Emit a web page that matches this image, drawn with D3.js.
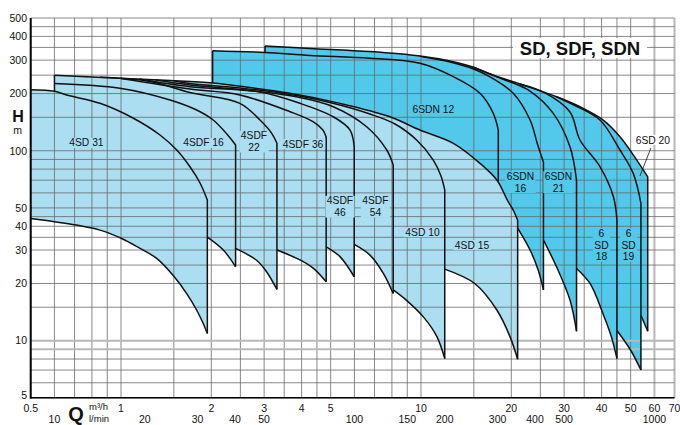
<!DOCTYPE html>
<html><head><meta charset="utf-8">
<script src="https://cdn.jsdelivr.net/npm/d3@7"></script>
<style>
body{margin:0;background:#fff}
svg{display:block}
text{font-family:"Liberation Sans",Arial,Helvetica,sans-serif;fill:#111}
</style>
</head><body>
<svg id="c" width="680" height="425"></svg>
<script>
// ---------- axes / ticks ----------
const xTicks = [0.5,1,2,3,4,5,10,20,30,40,50,60,70];          // m3/h
const lminTicks = [10,20,30,40,50,100,150,200,300,400,500,1000]; // l/min
const yTicks = [5,10,20,30,40,50,100,200,300,400,500];
const xGrid = [0.5,0.6,0.7,0.8,0.9,1,1.5,2,2.5,3,3.5,4,4.5,5,6,7,8,9,10,15,20,25,30,35,40,45,50,60,70];
const yGrid = [5,6,7,8,9,10,15,20,25,30,35,40,45,50,60,70,80,90,100,150,200,250,300,350,400,450,500];
const xGridLight = [60,70];
const yGridLight = [9,10];

// ---------- 4" pumps (Q m3/h, H m) ----------
const sd31Top  = [[0.5,209.6],[0.6,205.6],[0.659,196.5],[0.851,177.7],[1.096,148.7],[1.349,121],[1.534,100.8],[1.698,82.3],[1.834,67.6],[1.94,55]];
const sd31Bot  = [[0.5,44],[0.6,42.3],[0.708,40.6],[0.851,38.2],[1.005,34.5],[1.157,30.6],[1.315,27.1],[1.505,21.7],[1.656,17.7],[1.787,14.5],[1.88,12.3],[1.94,10.9]];
const sdf16Top = [[0.6,226],[0.992,213.3],[1.457,185],[1.787,163.8],[2.029,145.1],[2.253,122.4],[2.41,107.2]];
const sdf16Bot = [[1.94,35.1],[2.193,30],[2.41,24.5]];
const sdf22Top = [[0.85,243.4],[1.249,231.5],[1.698,202.6],[2.49,177.7],[2.906,145.1],[3.18,123.5],[3.31,109.4]];
const sdf22Bot = [[2.41,30.6],[2.83,26.5],[3.06,23],[3.31,18.6]];
const sdf36Top = [[1.0,240.2],[1.698,211.4],[2.49,196.6],[3.66,160.5],[4.365,142.2],[4.71,128.5],[4.83,118.1]];
const sdf36Bot = [[3.31,30],[3.95,26.6],[4.38,24],[4.83,20.4]];
const sdf46Top = [[1.15,238.6],[1.698,217.4],[2.906,203.9],[3.95,177.7],[5.1,151],[5.8,128.5],[5.99,105]];
const sdf46Bot = [[4.83,31.2],[5.37,27.7],[5.99,21.7]];
const sdf54Top = [[1.3,236.4],[1.698,221.9],[2.49,210.1],[3.95,190.7],[5.1,170.5],[6.59,133.8],[7.69,100.9],[8.08,84.1]];
const sdf54Bot = [[5.99,32.1],[6.76,28.2],[7.49,22.6],[8.08,17.7]];
const sd10Top  = [[1.5,233.8],[1.698,225.9],[2.49,214],[3.66,197.8],[4.97,179.5],[6.76,156.1],[8.19,138.3],[9.67,113.9],[10.99,89.3],[11.66,73.6],[12,62.1]];
const sd10Bot  = [[8.08,18.5],[8.95,16.3],[10.2,13.3],[11.3,10.5],[12,8.05]];
const sd15Top  = [[0.6,250],[0.992,240.7],[1.457,234.4],[2.02,227.4],[2.69,215.3],[3.66,200.7],[5.37,177.6],[7.88,151],[9.92,128.5],[12.82,109.4],[15.73,85.8],[17.9,70.1],[19.4,55],[20.3,48.7],[21,43.1]];
const sd15Bot  = [[12,23.8],[15.1,20],[17.9,14.5],[19.8,10.5],[21,7.98]];

// ---------- 6" pumps ----------
const sdn12Top = [[2.02,336.5],[3.02,329],[4.27,317.5],[6.76,306.8],[9.92,288.7],[12.82,245.4],[15.73,200.7],[17.42,157.4],[18.1,128.5]];
const sdn12Bot = [[18.1,69]];
const sdn16Top = [[9.92,314],[12.5,293],[14.9,270],[16.98,245],[20.3,200.7],[23.1,145.1],[24.5,107.2],[25.6,87.2]];
const sdn16Bot = [[21,39.1],[23.1,30],[24.6,23.5],[25.6,18.5]];
const sdn21Top = [[14.88,276],[18.34,241.5],[23.08,206.3],[27.6,157.4],[31.38,105],[33,70.1]];
const sdn21Bot = [[25.6,33.8],[28.3,24.5],[31.4,16.3],[33,11.2]];
const sd18Top  = [[21.38,224.6],[25.9,201.5],[31.38,159.9],[33.88,113.9],[39.5,82.4],[43.8,57.2],[45,43.1]];
const sd18Bot  = [[33,24],[36.6,20],[40.4,13.9],[43.1,10.5],[45,8.05]];
const sd19Top  = [[28.3,192.5],[32.6,173],[39.5,145.1],[46.07,100.9],[51,76],[54.1,52.8]];
const sd19Bot  = [[45,11.3],[50,8.9],[54.1,7.0]];
const sd20Top  = [[3.02,356],[4.27,345.6],[6.76,333],[9.92,315.5],[12.5,296.8],[14.88,276],[16.98,253.6],[21.38,224.6],[28.3,192.5],[33.88,170.5],[40.5,145.1],[46.07,118.5],[52.4,89.3],[57,72.9]];
const sd20Bot  = [[54.1,13.6],[57,11.2]];

// ---------- labels ----------
const labelText  = ["4SD 31","4SDF 16","4SDF\n22","4SDF 36","4SDF\n46","4SDF\n54","4SD 10","4SD 15","6SDN 12","6SDN\n16","6SDN\n21","6\nSD\n18","6\nSD\n19","6SD 20"];
const labelQ     = [0.767,1.884,2.775,4.044,5.37,7.05,10.12,14.79,11.0,21.46,28.73,39.96,49.2,59.3];
const labelH     = [110,110,111.8,108.5,50.8,50.8,37.3,31.9,165.8,68.4,68.4,31.9,31.9,113.9];
const labelGroup = ["4","4","4","4","4","4","4","4","6","6","6","6","6","w"];
const leader6SD20 = [[58.4,103.3],[53.7,73.6]];

const pumps4 = [[sd31Top,sd31Bot],[sdf16Top,sdf16Bot],[sdf22Top,sdf22Bot],[sdf36Top,sdf36Bot],[sdf46Top,sdf46Bot],[sdf54Top,sdf54Bot],[sd10Top,sd10Bot],[sd15Top,sd15Bot]];
const pumps6 = [[sdn12Top,sdn12Bot],[sdn16Top,sdn16Bot],[sdn21Top,sdn21Bot],[sd18Top,sd18Bot],[sd19Top,sd19Bot],[sd20Top,sd20Bot]];

const LIGHT = "#aadef0", DARK = "#52c8ea";

// ---------- scales ----------
const x = d3.scaleLog().domain([0.5,70]).range([30.7,674.5]);
const y = d3.scaleLog().domain([5,500]).range([397.8,18]);
const svg = d3.select("#c");
const line = d3.line().x(d=>x(d[0])).y(d=>y(d[1])).curve(d3.curveCatmullRom.alpha(0.5));
const rev = a => a.slice().reverse();
const cont = pts => line(pts).replace(/^M/,"L");
const P = d => x(d[0]).toFixed(2)+","+y(d[1]).toFixed(2);

// ---------- fills ----------
const darkPath = "M"+P([2.02,150])+"L"+P(sdn12Top[0])+"L"+P(sdn12Top[1])
  + cont(sd20Top) + cont(rev(sd20Bot)) + cont(rev(sd19Bot)) + cont(rev(sd18Bot))
  + cont(rev(sdn21Bot)) + cont(rev(sdn16Bot)) + "L"+P([21,30]) + "Z";
svg.append("path").attr("d",darkPath).attr("fill",DARK);

const lightPath = "M"+P(sd31Bot[0]) + cont(sd31Top.filter(d=>d[0]<=0.6))
  + cont(sd15Top) + cont(rev(sd15Bot)) + cont(rev(sd10Bot)) + cont(rev(sdf54Bot))
  + cont(rev(sdf46Bot)) + cont(rev(sdf36Bot)) + cont(rev(sdf22Bot)) + cont(rev(sdf16Bot))
  + cont(rev(sd31Bot)) + "Z";
svg.append("path").attr("d",lightPath).attr("fill",LIGHT);

// ---------- grid ----------
const g = svg.append("g");
g.selectAll(".vg").data(xGrid).join("line")
  .attr("x1",d=>x(d)).attr("x2",d=>x(d)).attr("y1",y(500)).attr("y2",y(5))
  .attr("stroke",d=>xGridLight.includes(d)?"#b8b8b8":"#6a6a6a").attr("stroke-width",d=>xGridLight.includes(d)?2:0.8);
g.selectAll(".hg").data(yGrid).join("line")
  .attr("y1",d=>y(d)).attr("y2",d=>y(d)).attr("x1",x(0.5)).attr("x2",x(70))
  .attr("stroke",d=>yGridLight.includes(d)?"#b8b8b8":"#6a6a6a").attr("stroke-width",d=>yGridLight.includes(d)?2:0.8);

// ---------- curves ----------
const cg = svg.append("g").attr("fill","none").attr("stroke","#111").attr("stroke-width",1.5).attr("stroke-linejoin","round");
[...pumps4,...pumps6].forEach(([top,bot])=>{
  const end = bot[bot.length-1];
  cg.append("path").attr("d", line(top)+"L"+P([top[top.length-1][0], end[1]]));
  if(bot.length>1) cg.append("path").attr("d", line(bot));
});
// step edges
cg.append("path").attr("d","M"+P([0.6,205.6])+"L"+P(sd15Top[0]));
cg.append("path").attr("d","M"+P([2.02,227.4])+"L"+P(sdn12Top[0]));
cg.append("path").attr("d","M"+P(sdn12Top[1])+"L"+P(sd20Top[0]));

// ---------- axes ----------
svg.append("line").attr("x1",x(0.5)).attr("x2",x(0.5)).attr("y1",y(500)).attr("y2",y(5)+1).attr("stroke","#000").attr("stroke-width",2);
svg.append("line").attr("x1",x(0.5)).attr("x2",x(70)).attr("y1",y(5)).attr("y2",y(5)).attr("stroke","#000").attr("stroke-width",1.6);

svg.selectAll(".yt").data(yTicks).join("text")
  .attr("x",27).attr("y",d=>y(d)+(d===5?1.5:3.8)).attr("text-anchor","end").attr("font-size",10.5).text(d=>d);
svg.selectAll(".xt").data(xTicks).join("text")
  .attr("x",d=>x(d)).attr("y",411.5).attr("text-anchor","middle").attr("font-size",10.5).text(d=>d);
svg.selectAll(".lt").data(lminTicks).join("text")
  .attr("x",d=>x(d*0.06)).attr("y",423).attr("text-anchor","middle").attr("font-size",10.5).text(d=>d);

svg.append("text").attr("x",76).attr("y",421).attr("text-anchor","middle").attr("font-size",20).attr("font-weight","bold").text("Q");
svg.append("text").attr("x",89).attr("y",410).attr("font-size",9.5).text("m³/h");
svg.append("text").attr("x",89).attr("y",422).attr("font-size",9.5).text("l/min");
svg.append("text").attr("x",18).attr("y",122).attr("text-anchor","middle").attr("font-size",16).attr("font-weight","bold").text("H");
svg.append("text").attr("x",17.5).attr("y",134).attr("text-anchor","middle").attr("font-size",10.5).text("m");

// ---------- title ----------
svg.append("rect").attr("x",513).attr("y",38).attr("width",134).attr("height",20).attr("fill","#fff");
svg.append("text").attr("x",580).attr("y",54.5).attr("text-anchor","middle").attr("font-size",18.5).attr("font-weight","bold").text("SD, SDF, SDN");

// ---------- labels ----------
svg.append("path").attr("d",d3.line().x(d=>x(d[0])).y(d=>y(d[1]))(leader6SD20)).attr("stroke","#111").attr("stroke-width",0.8).attr("fill","none");
labelText.forEach((t,i)=>{
  const lines = t.split("\n");
  const cx = x(labelQ[i]), cy = y(labelH[i]);
  const lg = svg.append("g");
  const tx = lg.append("text").attr("text-anchor","middle").attr("font-size",10.3);
  const lh = 11.8;
  lines.forEach((s,k)=>{
    tx.append("tspan").attr("x",cx).attr("y",cy + 3.6 + (k-(lines.length-1)/2)*lh).text(s);
  });
  const bb = tx.node().getBBox();
  const fill = labelGroup[i]==="4"?LIGHT:(labelGroup[i]==="6"?DARK:"#fff");
  lg.insert("rect","text").attr("x",bb.x-1.5).attr("y",bb.y+0.5).attr("width",bb.width+3).attr("height",bb.height-1).attr("fill",fill);
});
</script>
</body></html>
